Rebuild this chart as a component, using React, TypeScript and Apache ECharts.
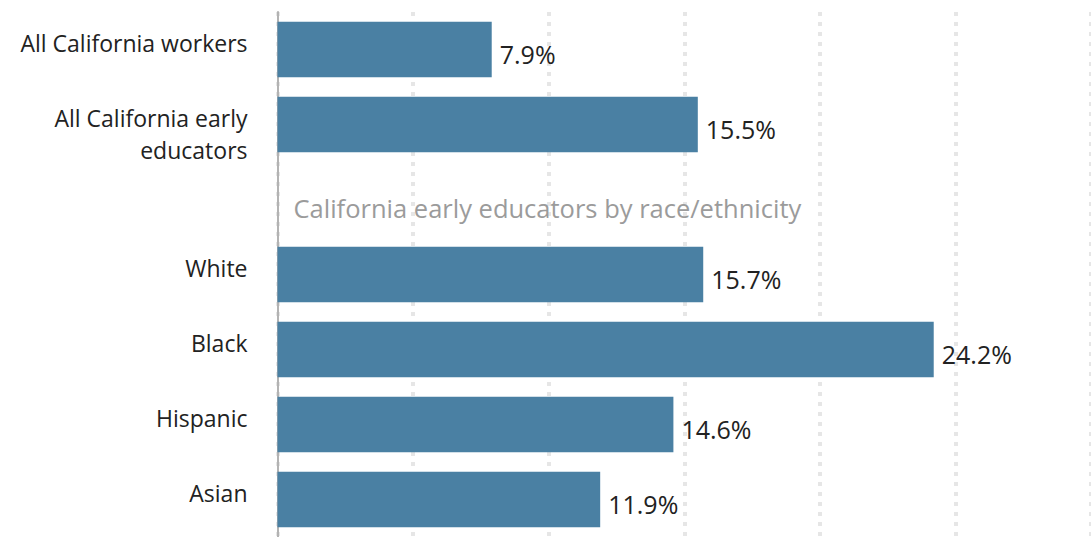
import React, { useEffect, useRef } from "react";
import * as echarts from "echarts";

const categories = [
  "All California workers",
  "All California early\neducators",
  "",
  "White",
  "Black",
  "Hispanic",
  "Asian",
];
const values: (number | null)[] = [7.9, 15.5, null, 15.7, 24.2, 14.6, 11.9];
const subtitle = "California early educators by race/ethnicity";
const subtitleIndex = 2;

const FONT = "'Open Sans'";

export default function App() {
  const ref = useRef<HTMLDivElement>(null);
  useEffect(() => {
    if (!ref.current) return;
    const chart = echarts.init(ref.current, undefined, { renderer: "svg" });
    const data = values.map((v, i) =>
      i === subtitleIndex
        ? {
            value: 0,
            label: {
              show: true,
              formatter: subtitle,
              color: "#9b9b9b",
              fontSize: 25.5,
              distance: 16,
              offset: [0, 8],
            },
          }
        : { value: v }
    );
    chart.setOption({
      animation: false,
      grid: { left: 277.5, right: -2.5, top: 12, bottom: -5, containLabel: false },
      xAxis: {
        type: "value",
        min: 0,
        max: 30,
        interval: 5,
        axisLabel: { show: false },
        axisLine: { show: false },
        axisTick: { show: false },
        splitLine: {
          show: true,
          lineStyle: { color: "#e6e6e6", width: 4, type: [4, 6] },
        },
      },
      yAxis: {
        type: "category",
        data: categories,
        inverse: true,
        axisTick: { show: false },
        axisLine: { show: true, lineStyle: { color: "#b3b3b3", width: 2 } },
        axisLabel: {
          color: "#222222",
          fontFamily: FONT,
          fontSize: 23,
          margin: 30,
          lineHeight: 32,
          verticalAlign: "top",
          padding: [-23, 0, 0, 0],
        },
      },
      series: [
        {
          type: "bar",
          data,
          barCategoryGap: "26%",
          itemStyle: { color: "#4a80a3" },
          label: {
            show: true,
            position: "right",
            distance: 8,
            offset: [0, 4],
            color: "#222222",
            fontFamily: FONT,
            fontSize: 25,
            formatter: (p: any) => (p.value == null ? "" : p.value.toFixed(1) + "%"),
          },
        },
      ],
    });
    return () => chart.dispose();
  }, []);
  return (
    <div
      ref={ref}
      style={{ position: "fixed", left: 0, top: 0, width: 1091, height: 537, background: "#fff" }}
    />
  );
}
